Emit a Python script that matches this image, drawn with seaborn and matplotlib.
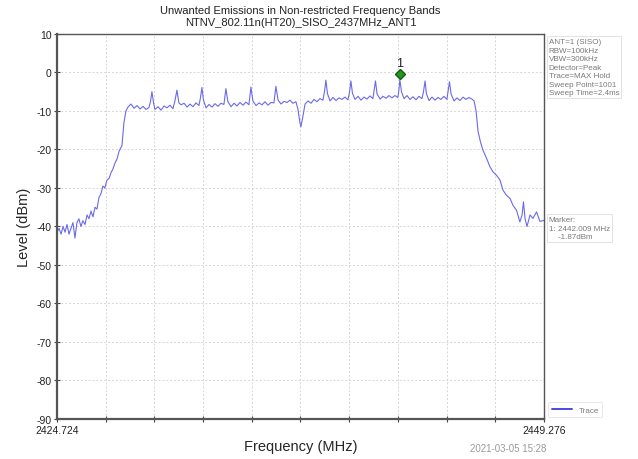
"""
Unwanted emissions plot (spectrum analyser trace) rebuilt with seaborn.
"""

import numpy as np
import pandas as pd
import matplotlib
matplotlib.use("Agg")
import matplotlib.pyplot as plt
import matplotlib.transforms as mtransforms
import seaborn as sns

# ── Data ─────────────────────────────────────────────────────────────────────
freq_mhz = [
    2424.724, 2424.83, 2424.93, 2425.03, 2425.13, 2425.23, 2425.33, 2425.43,
    2425.53, 2425.63, 2425.73, 2425.83, 2425.93, 2426.03, 2426.14, 2426.24,
    2426.34, 2426.44, 2426.54, 2426.64, 2426.74, 2426.84, 2426.94, 2427.04,
    2427.14, 2427.24, 2427.35, 2427.45, 2427.55, 2427.65, 2427.75, 2427.85,
    2427.95, 2428.00, 2428.10, 2428.20, 2428.30,
    2428.45, 2428.61, 2428.76, 2428.91, 2429.06, 2429.21, 2429.36, 2429.44,
    2429.51, 2429.59, 2429.66, 2429.82, 2429.97, 2430.12, 2430.27, 2430.42,
    2430.57, 2430.67, 2430.77, 2430.87, 2430.98, 2431.13, 2431.28, 2431.43,
    2431.58, 2431.73, 2431.88, 2431.96, 2432.03, 2432.11, 2432.24, 2432.39,
    2432.54, 2432.69, 2432.84, 2432.99, 2433.14, 2433.24, 2433.34, 2433.50,
    2433.65, 2433.80, 2433.95, 2434.10, 2434.25, 2434.40, 2434.50, 2434.60,
    2434.76, 2434.91, 2435.06, 2435.21, 2435.36, 2435.51, 2435.66, 2435.76,
    2435.87, 2436.02, 2436.17, 2436.32, 2436.47, 2436.62, 2436.77, 2436.87,
    2436.97, 2437.02, 2437.10, 2437.23, 2437.38, 2437.53, 2437.68, 2437.83,
    2437.98, 2438.13, 2438.21, 2438.28, 2438.36, 2438.49, 2438.64, 2438.79,
    2438.94, 2439.09, 2439.24, 2439.39, 2439.47, 2439.54, 2439.62, 2439.75,
    2439.90, 2440.05, 2440.20, 2440.35, 2440.50, 2440.65, 2440.70, 2440.78,
    2440.86, 2441.01, 2441.16, 2441.31, 2441.46, 2441.61, 2441.76, 2441.91,
    2441.96, 2442.009, 2442.09, 2442.22, 2442.37, 2442.52, 2442.67, 2442.82,
    2442.97, 2443.12, 2443.20, 2443.28, 2443.35, 2443.48, 2443.63, 2443.78,
    2443.93, 2444.08, 2444.23, 2444.38, 2444.43, 2444.51, 2444.59, 2444.74,
    2444.89, 2445.04, 2445.19, 2445.34, 2445.49, 2445.64, 2445.75, 2445.85,
    2445.95, 2446.07, 2446.20, 2446.38, 2446.55, 2446.70, 2446.88, 2447.06,
    2447.21, 2447.38, 2447.56, 2447.71, 2447.89, 2448.06, 2448.17, 2448.24,
    2448.32, 2448.42, 2448.57, 2448.72, 2448.90, 2449.07, 2449.276,
]
level_dbm = [
    -41.5, -40.5, -42.0, -40.0, -41.5, -39.5, -42.0, -40.5,
    -39.0, -43.0, -39.0, -38.0, -40.0, -38.5, -39.5, -37.0,
    -38.0, -36.0, -37.5, -35.0, -35.5, -32.5, -31.5, -29.5,
    -30.0, -28.0, -27.5, -26.0, -25.0, -23.5, -22.5, -20.5,
    -19.5, -19.0, -13.0, -10.0, -9.0,
    -8.2, -9.3, -8.6, -9.5, -8.8, -9.6, -9.1, -7.5,
    -5.0, -7.8, -9.6, -8.9, -9.8, -8.7, -9.2, -8.5,
    -9.4, -7.4, -4.6, -7.9, -8.4, -8.0, -9.0, -8.2,
    -8.9, -7.9, -8.6, -6.5, -3.9, -7.2, -9.2, -8.3,
    -9.0, -8.1, -8.8, -8.0, -8.3, -4.2, -7.6, -8.9,
    -8.0, -8.7, -7.8, -8.5, -7.7, -8.4, -3.8, -7.4,
    -8.6, -7.9, -8.4, -7.6, -8.5, -7.8, -7.9, -3.6,
    -7.2, -8.2, -7.5, -7.8, -7.2, -8.0, -7.6, -9.5,
    -13.0, -14.1, -12.0, -8.2, -7.4, -8.0, -7.0, -7.6,
    -6.8, -7.2, -5.0, -2.0, -5.5, -7.4, -6.5, -7.3,
    -6.6, -7.0, -6.4, -7.1, -5.2, -2.2, -5.4, -7.0,
    -6.2, -7.2, -6.4, -6.9, -6.1, -6.8, -5.0, -2.2,
    -5.6, -6.9, -6.2, -6.7, -6.0, -6.6, -6.0, -6.5,
    -4.5, -1.87, -5.0, -6.8, -6.0, -7.0, -6.3, -7.1,
    -6.2, -6.8, -5.0, -2.2, -5.6, -7.3, -6.4, -7.2,
    -6.5, -7.0, -6.2, -7.0, -5.2, -2.4, -5.6, -7.4,
    -6.6, -7.3, -6.4, -7.0, -6.5, -6.9, -7.4, -10.0,
    -15.3, -18.0, -20.2, -22.3, -24.5, -25.8, -26.7, -28.0,
    -30.6, -31.9, -32.7, -34.5, -35.8, -38.8, -37.0, -33.6,
    -38.0, -40.0, -37.0, -37.9, -36.2, -38.7, -38.4,
]

marker_freq = 2442.009
marker_level = -1.87

f_start, f_stop = 2424.724, 2449.276
y_ticks = list(range(-90, 11, 10))

title_lines = [
    "Unwanted Emissions in Non-restricted Frequency Bands",
    "NTNV_802.11n(HT20)_SISO_2437MHz_ANT1",
]
settings_lines = [
    "ANT=1 (SISO)", "RBW=100kHz", "VBW=300kHz", "Detector=Peak",
    "Trace=MAX Hold", "Sweep Point=1001", "Sweep Time=2.4ms",
]
marker_lines = ["Marker:", "1: 2442.009 MHz", "    -1.87dBm"]
timestamp = "2021-03-05 15:28"

TRACE_COLOR = "#6a6aea"
TEXT_GREY = "#7a7a7a"


def main():
    sns.set_theme(style="white")
    plt.rcParams["font.family"] = ["Liberation Sans", "DejaVu Sans"]
    plt.rcParams["axes.unicode_minus"] = False

    df = pd.DataFrame({"Frequency": freq_mhz, "Level": level_dbm})

    fig = plt.figure(figsize=(6.38, 4.60), dpi=100)
    ax = fig.add_axes([0.0893, 0.087, 0.7634, 0.837])

    sns.lineplot(data=df, x="Frequency", y="Level", ax=ax, color=TRACE_COLOR,
                 linewidth=0.8, label="Trace")

    # marker 1 sits just above the peak it marks
    lift = mtransforms.offset_copy(ax.transData, fig=fig, x=0, y=6, units="dots")
    ax.plot([marker_freq], [marker_level], marker="D", markersize=5,
            color="#1f9a1f", markeredgecolor="#0d5e0d", transform=lift, zorder=5)
    ax.annotate("1", (marker_freq, marker_level), xytext=(0, 7.5),
                textcoords="offset points", ha="center", va="bottom",
                fontsize=9, color="#222222")

    # axes, ticks, grid
    ax.set_xlim(f_start, f_stop)
    ax.set_ylim(-90, 10)
    x_grid = np.linspace(f_start, f_stop, 11)
    ax.set_xticks(x_grid)
    ax.set_xticklabels([f"{f_start:.3f}"] + [""] * 9 + [f"{f_stop:.3f}"])
    ax.set_yticks(y_ticks)
    ax.tick_params(axis="both", which="major", labelsize=7.5, length=4,
                   direction="inout", width=0.8, color="#444444",
                   labelcolor="#222222", pad=2, bottom=True, left=True)
    ax.grid(True, color="#d6d6d6", linestyle=(0, (2, 2)), linewidth=0.7)
    for side, spine in ax.spines.items():
        spine.set_color("#555555")
        spine.set_linewidth(1.6 if side in ("left", "bottom") else 1.0)

    ax.set_xlabel("Frequency (MHz)", fontsize=10.5, labelpad=3)
    ax.set_ylabel("Level (dBm)", fontsize=10.5, labelpad=4)

    fig.text(0.471, 0.988, "\n".join(title_lines), ha="center", va="top",
             fontsize=8, color="#222222", linespacing=1.25)

    box = dict(boxstyle="square,pad=0.25", facecolor="white",
               edgecolor="#dddddd", linewidth=0.6)
    fig.text(0.860, 0.915, "\n".join(settings_lines), ha="left", va="top",
             fontsize=5.8, color=TEXT_GREY, linespacing=1.3, bbox=box)
    fig.text(0.860, 0.528, "\n".join(marker_lines), ha="left", va="top",
             fontsize=5.8, color=TEXT_GREY, linespacing=1.3, bbox=box)
    fig.text(0.737, 0.012, timestamp, ha="left", va="bottom",
             fontsize=7, color="#9a9a9a")

    leg = ax.legend(loc="lower left", bbox_to_anchor=(1.005, 0.0), fontsize=5.8,
                    frameon=True, handlelength=2.5, borderpad=0.45,
                    borderaxespad=0.2)
    leg.get_frame().set_edgecolor("#dddddd")
    leg.get_frame().set_linewidth(0.6)
    for line in leg.get_lines():
        line.set_color("#4a4ae0")
        line.set_linewidth(1.4)
    for t in leg.get_texts():
        t.set_color(TEXT_GREY)

    fig.savefig("out.png", dpi=100)


if __name__ == "__main__":
    main()
